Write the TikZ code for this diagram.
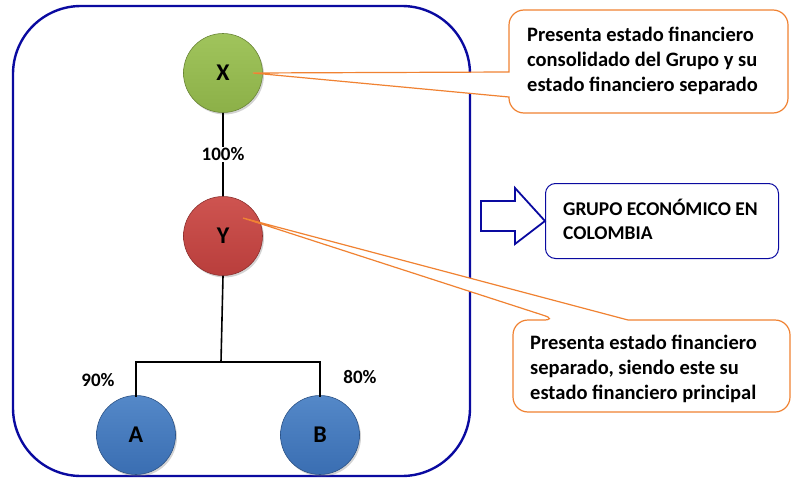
\documentclass[tikz,border=0pt]{standalone}
\usepackage{fontspec}
\setmainfont{Carlito}
\usetikzlibrary{shadows}
\definecolor{frameblue}{RGB}{10,10,160}
\definecolor{calloutorange}{RGB}{240,130,50}
\definecolor{gbase}{RGB}{140,176,72}
\definecolor{glight}{RGB}{160,196,92}
\definecolor{rbase}{RGB}{185,62,60}
\definecolor{rlight}{RGB}{206,84,80}
\definecolor{bbase}{RGB}{58,110,178}
\definecolor{blight}{RGB}{84,136,200}
\tikzset{
  ent/.style={circle, minimum size=79pt, inner sep=0pt,
    font=\bfseries\fontsize{24}{28}\selectfont,
    drop shadow={opacity=0.35, shadow xshift=1.5pt, shadow yshift=-2pt}},
  pct/.style={font=\bfseries\fontsize{19}{22}\selectfont, inner sep=1pt},
  calltext/.style={font=\bfseries\fontsize{20.5}{25}\selectfont, align=left, inner sep=0pt, anchor=north west},
  callout/.style={draw=calloutorange, line width=1.2pt, fill=white},
  tree/.style={line width=1.6pt, black},
}
\begin{document}
\begin{tikzpicture}[x=1pt, y=-1pt]
\useasboundingbox (0,0) rectangle (793,479);
% main frame
\draw[frameblue, line width=2.4pt, rounded corners=68pt] (13,6) rectangle (470,476);
% entities
\node[ent, top color=glight, bottom color=gbase, draw=gbase!75!black, line width=0.6pt] (X) at (223,73) {X};
\node[ent, top color=rlight, bottom color=rbase, draw=rbase!75!black, line width=0.6pt] (Y) at (223,236) {Y};
\node[ent, top color=blight, bottom color=bbase, draw=bbase!75!black, line width=0.6pt] (A) at (136,435) {A};
\node[ent, top color=blight, bottom color=bbase, draw=bbase!75!black, line width=0.6pt] (B) at (320,435) {B};
% ownership lines
\draw[tree] (X.south) -- node[pct, fill=white] (p100) {100\%} (Y.north);
\coordinate (j) at (221,362);
\draw[tree] (Y.south) -- (j);
\draw[tree] (j) -| ([yshift=-2pt]A.north);
\draw[tree] (j) -| ([yshift=-2pt]B.north);
\node[pct] (p90) at (98,380) {90\%};
\node[pct] (p80) at (360,377) {80\%};
% callout 1
\coordinate (tipx) at ([xshift=-10pt]X.east);
\draw[callout] (tipx) -- (509,97) [rounded corners=15pt] -- (509,113) -- (788,113) -- (788,10) -- (509,10) [sharp corners] -- (509,72) -- cycle;
\node[calltext] (c1) at (527,27) {Presenta estado financiero\\consolidado del Grupo y su\\estado financiero separado};
% callout 2
\coordinate (tipy) at (243,218);
\draw[callout] (tipy) -- (628,320) [rounded corners=15pt] -- (790,320) -- (790,412) -- (513,412) -- (513,320) -- (558,320) [sharp corners] -- cycle;
\node[calltext] (c2) at (530,335) {Presenta estado financiero\\separado, siendo este su\\estado financiero principal};
% grupo box and arrow
\node[draw=frameblue, line width=1pt, rounded corners=10pt, minimum width=233pt, minimum height=75pt, anchor=north west] (G) at (545,183) {};
\node[font=\bfseries\fontsize{19.5}{24}\selectfont, align=left, inner sep=0pt, anchor=north west] (gt) at (563,199) {GRUPO ECONÓMICO EN\\COLOMBIA};
\draw[frameblue, line width=1.8pt, line join=miter] (481,201) -- (515,201) -- (515,188) -- (G.west) -- (515,244) -- (515,231) -- (481,231) -- cycle;
\end{tikzpicture}
\end{document}
